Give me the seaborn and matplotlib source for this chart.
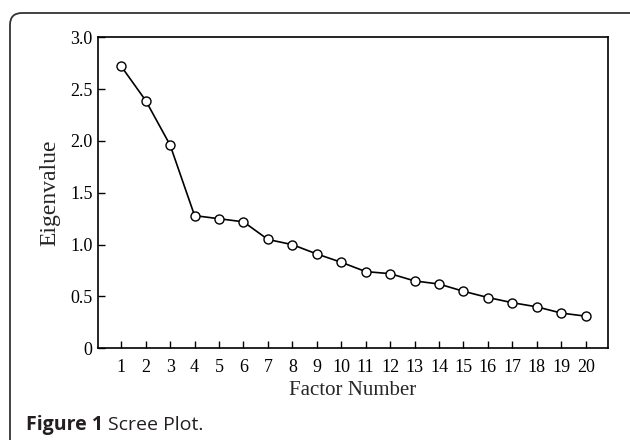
import matplotlib
matplotlib.use('Agg')
import matplotlib.pyplot as plt
from matplotlib.patches import FancyBboxPatch
import pandas as pd
import seaborn as sns

# Scree plot data
factors = list(range(1, 21))
eigenvalues = [2.72, 2.39, 1.96, 1.28, 1.25, 1.22, 1.05, 1.00, 0.91, 0.83,
               0.74, 0.72, 0.65, 0.62, 0.55, 0.49, 0.44, 0.40, 0.34, 0.31]
y_ticks = [0, 0.5, 1.0, 1.5, 2.0, 2.5, 3.0]
y_tick_labels = ['0', '0.5', '1.0', '1.5', '2.0', '2.5', '3.0']

df = pd.DataFrame({'factor': factors, 'eigenvalue': eigenvalues})

sns.set_style('ticks')
plt.rcParams['font.family'] = ['Liberation Serif', 'DejaVu Serif']

fig = plt.figure(figsize=(6.3, 4.4), dpi=100)
ax = fig.add_axes([0.1556, 0.2084, 0.809, 0.7068])

sns.lineplot(data=df, x='factor', y='eigenvalue', ax=ax, color='black',
             linewidth=1.2, marker='o', markersize=6.5,
             markerfacecolor='white', markeredgecolor='black',
             markeredgewidth=1.0)

ax.set_xlim(0.05, 20.9)
ax.set_ylim(0, 3.0)
ax.set_xticks(factors)
ax.set_xticklabels([str(f) for f in factors])
ax.set_yticks(y_ticks)
ax.set_yticklabels(y_tick_labels)
ax.tick_params(axis='both', direction='in', length=5, width=1.0,
               labelsize=13, colors='black', pad=4)
ax.tick_params(axis='x', pad=8)
for s in ax.spines.values():
    s.set_visible(True)
    s.set_linewidth(1.2)
    s.set_color('black')

ax.set_xlabel('Factor Number', fontsize=15, labelpad=3)
ax.set_ylabel('Eigenvalue', fontsize=17, labelpad=7)

# outer rounded frame
frame = FancyBboxPatch((10, -30), 660, 440 - 13 + 30,
                       boxstyle='round,pad=0,rounding_size=12',
                       transform=None, fill=False, edgecolor='#333333',
                       linewidth=1.3, clip_on=False)
fig.patches.append(frame)

cap_y = 1 - 425 / 440
t1 = fig.text(26 / 630, cap_y, 'Figure 1', fontsize=14, color='#231f20',
              fontweight='bold', family=['Open Sans', 'DejaVu Sans'],
              va='center', ha='left')
fig.canvas.draw()
bb = t1.get_window_extent()
fig.text((bb.x1 + 5) / 630, cap_y, 'Scree Plot.', fontsize=14,
         color='#231f20', family=['Open Sans', 'DejaVu Sans'],
         va='center', ha='left')

fig.savefig('out.png', dpi=100)
